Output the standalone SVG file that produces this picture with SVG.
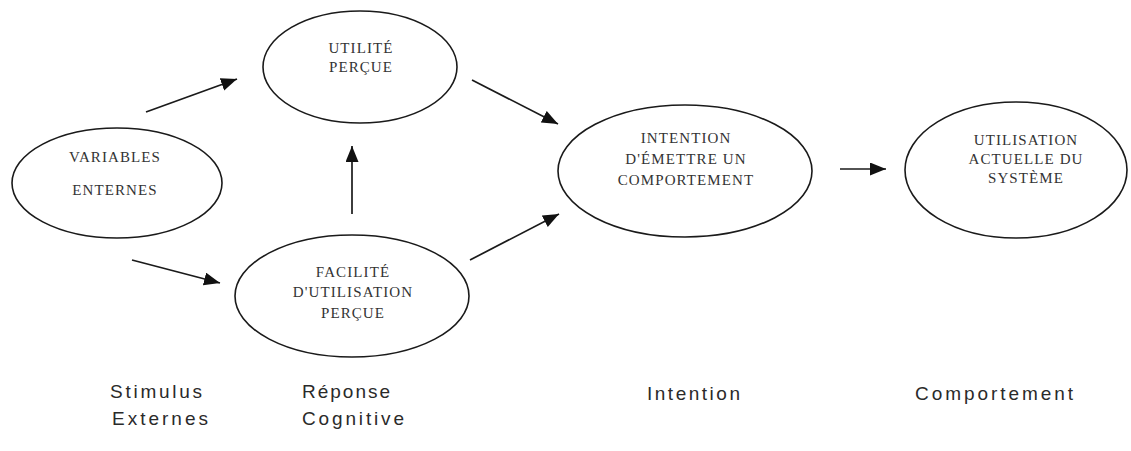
<svg xmlns="http://www.w3.org/2000/svg" width="1131" height="451" viewBox="0 0 1131 451">
  <style>
    .node ellipse { fill: #ffffff; stroke: #1a1a1a; stroke-width: 1.6; }
    .node text { font-family: "Liberation Serif", "Times New Roman", serif; font-size: 15px; fill: #333333; text-anchor: middle; letter-spacing: 1.1px; }
    .edges line { stroke: #1a1a1a; stroke-width: 1.7; marker-end: url(#head); }
    .stage text { font-family: "Liberation Sans", Arial, sans-serif; font-size: 19px; fill: #2a2a2a; }
  </style>
  <defs>
    <marker id="head" markerUnits="userSpaceOnUse" markerWidth="18" markerHeight="14" refX="16" refY="6.5" orient="auto">
      <path d="M0,0 L16,6.5 L0,13 z" fill="#111111"/>
    </marker>
  </defs>

  <rect width="1131" height="451" fill="#ffffff"/>

  <!-- connectors -->
  <g class="edges">
    <line x1="146" y1="112" x2="237" y2="79"/>
    <line x1="132" y1="260" x2="220" y2="283"/>
    <line x1="352" y1="214" x2="352" y2="146"/>
    <line x1="472" y1="80" x2="558" y2="124"/>
    <line x1="470" y1="260" x2="559" y2="214"/>
    <line x1="840" y1="169" x2="886" y2="169"/>
  </g>

  <!-- nodes -->
  <g id="variables-externes" class="node">
    <ellipse cx="117" cy="183" rx="105" ry="55"/>
    <text x="115" y="162">VARIABLES</text>
    <text x="115" y="195">ENTERNES</text>
  </g>

  <g id="utilite-percue" class="node">
    <ellipse cx="360" cy="67" rx="97" ry="56"/>
    <text x="361" y="53">UTILITÉ</text>
    <text x="361" y="72">PERÇUE</text>
  </g>

  <g id="facilite-utilisation" class="node">
    <ellipse cx="352" cy="296" rx="117" ry="61"/>
    <text x="353" y="277">FACILITÉ</text>
    <text x="353" y="297">D'UTILISATION</text>
    <text x="353" y="318">PERÇUE</text>
  </g>

  <g id="intention-comportement" class="node">
    <ellipse cx="685" cy="171" rx="127" ry="66"/>
    <text x="686" y="143">INTENTION</text>
    <text x="686" y="164">D'ÉMETTRE UN</text>
    <text x="686" y="185">COMPORTEMENT</text>
  </g>

  <g id="utilisation-actuelle" class="node">
    <ellipse cx="1016" cy="170" rx="111" ry="68"/>
    <text x="1026" y="145">UTILISATION</text>
    <text x="1026" y="164">ACTUELLE DU</text>
    <text x="1026" y="183">SYSTÈME</text>
  </g>

  <!-- stage labels along the bottom -->
  <g class="stage">
    <text x="110" y="398" textLength="92" lengthAdjust="spacing">Stimulus</text>
    <text x="112" y="425" textLength="96" lengthAdjust="spacing">Externes</text>
    <text x="302" y="398" textLength="88" lengthAdjust="spacing">Réponse</text>
    <text x="302" y="425" textLength="102" lengthAdjust="spacing">Cognitive</text>
    <text x="647" y="400" textLength="93" lengthAdjust="spacing">Intention</text>
    <text x="915" y="400" textLength="158" lengthAdjust="spacing">Comportement</text>
  </g>
</svg>
